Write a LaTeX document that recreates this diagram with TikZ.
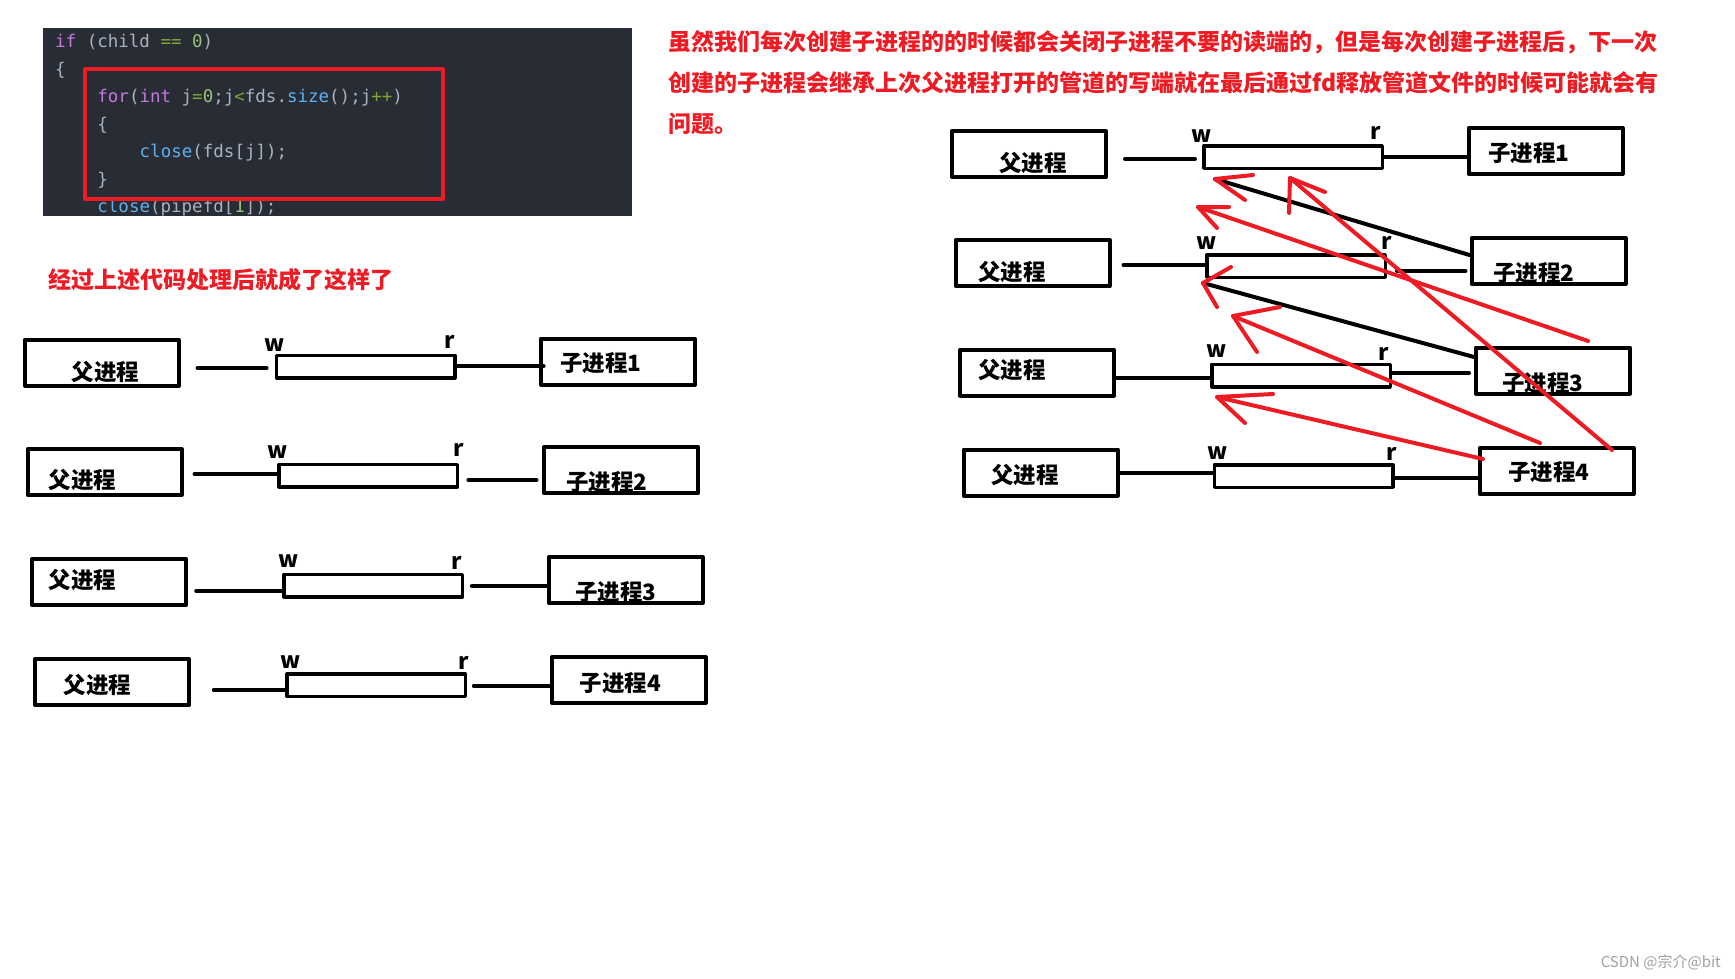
\documentclass[tikz,border=0pt]{standalone}
\usepackage{fontspec}
\newfontfamily\cjk{Noto Sans CJK SC}
\newfontfamily\codefont{DejaVu Sans Mono}
\begin{document}
\begin{tikzpicture}[x=1pt,y=-1pt,line join=round,
  procbox/.style={draw,line width=4pt,minimum width=154pt,minimum height=46pt,inner sep=0pt},
  pipebox/.style={draw,line width=3.5pt,minimum width=178.5pt,minimum height=22.5pt,inner sep=0pt},
  wire/.style={line width=4pt,line cap=round},
  pen/.style={draw=inkred,line width=4pt,line cap=round},
  lbl/.style={font=\cjk\bfseries\fontsize{22.5}{27}\selectfont,inner sep=0pt},
  endlbl/.style={lbl,anchor=base},
  codeln/.style={font=\codefont\fontsize{17.5}{27.5}\selectfont,anchor=base west,inner sep=0pt,text=codegray}]
\definecolor{inkred}{HTML}{ED1C24}
\definecolor{codebg}{HTML}{282C34}
\definecolor{codegray}{HTML}{ABB2BF}
\definecolor{kw}{HTML}{C678DD}
\definecolor{fn}{HTML}{61AFEF}
\definecolor{op}{HTML}{7FA835}
\definecolor{num}{HTML}{98C379}
\definecolor{wmgray}{HTML}{A0A0A0}
\fill[white] (0,0) rectangle (1735,978);
\useasboundingbox (0,0) rectangle (1735,978);
\fill[codebg] (43,28) rectangle (632,216);
\begin{scope}
\clip (43,28) rectangle (632,216);
\node[codeln] (cl1) at (55,47.5) {\textcolor{kw}{if} (child \textcolor{op}{==} \textcolor{num}{0})};
\node[codeln] (cl2) at (55,75) {\{};
\node[codeln] (cl3) at (97.2,102.5) {\textcolor{kw}{for}(\textcolor{kw}{int} j\textcolor{op}{=}\textcolor{num}{0};j\textcolor{op}{<}fds.\textcolor{fn}{size}();j\textcolor{op}{++})};
\node[codeln] (cl4) at (97.2,130) {\{};
\node[codeln] (cl5) at (139.5,157.5) {\textcolor{fn}{close}(fds[j]);};
\node[codeln] (cl6) at (97.2,185) {\}};
\node[codeln] (cl7) at (97.2,212.5) {\textcolor{fn}{close}(pipefd[\textcolor{num}{1}]);};
\end{scope}
\draw[draw=inkred,line width=4.5pt] (85,69) rectangle (443,199);
\node[font=\cjk\bfseries\fontsize{23}{41}\selectfont,text=inkred,align=left,anchor=west,inner sep=0pt] (note) at (668,83) {虽然我们每次创建子进程的的时候都会关闭子进程不要的读端的，但是每次创建子进程后，下一次\\创建的子进程会继承上次父进程打开的管道的写端就在最后通过fd释放管道文件的时候可能就会有\\问题。};
\node[font=\cjk\bfseries\fontsize{23}{28}\selectfont,text=inkred,anchor=west,inner sep=0pt] (title) at (48,280) {经过上述代码处理后就成了这样了};
\node[procbox] (parL1) at (101.8,362.5) {};
\node[lbl] (parL1t) at (105.7,371.7) {父进程};
\node[pipebox] (pipeL1) at (365.6,366.5) {};
\node[endlbl] (wL1) at (274.4,351) {w};
\node[endlbl] (rL1) at (449.4,348) {r};
\node[procbox] (kidL1) at (618.1,361.5) {};
\node[lbl] (kidL1t) at (600.6,363.3) {子进程1};
\draw[wire,shorten <=16.7pt,shorten >=8pt] (parL1.east |- 0,368) -- (pipeL1.west |- 0,368);
\draw[wire,shorten >=-4.5pt] (pipeL1.east |- 0,366) -- (kidL1.west |- 0,366);
\node[procbox] (parL2) at (104.5,472) {};
\node[lbl] (parL2t) at (82.7,480) {父进程};
\node[pipebox] (pipeL2) at (368.4,475.5) {};
\node[endlbl] (wL2) at (278,458) {w};
\node[endlbl] (rL2) at (458.6,456.5) {r};
\node[procbox] (kidL2) at (621.2,470) {};
\node[lbl] (kidL2t) at (606.6,481.7) {子进程2};
\draw[wire,shorten <=11pt] (parL2.east |- 0,474) -- (pipeL2.west |- 0,474);
\draw[wire,shorten <=9pt,shorten >=5.7pt] (pipeL2.east |- 0,480) -- (kidL2.west |- 0,480);
\node[procbox] (parL3) at (109.2,582) {};
\node[lbl] (parL3t) at (82.7,580) {父进程};
\node[pipebox] (pipeL3) at (373.4,585.5) {};
\node[endlbl] (wL3) at (288.6,567) {w};
\node[endlbl] (rL3) at (456.3,569) {r};
\node[procbox] (kidL3) at (625.7,580) {};
\node[lbl] (kidL3t) at (615.8,591.7) {子进程3};
\draw[wire,shorten <=8pt] (parL3.east |- 0,591) -- (pipeL3.west |- 0,591);
\draw[wire,shorten <=7.5pt] (pipeL3.east |- 0,586) -- (kidL3.west |- 0,586);
\node[procbox] (parL4) at (112.1,682) {};
\node[lbl] (parL4t) at (97.4,685) {父进程};
\node[pipebox] (pipeL4) at (376.2,685.3) {};
\node[endlbl] (wL4) at (290.9,668) {w};
\node[endlbl] (rL4) at (464.2,669) {r};
\node[procbox] (kidL4) at (628.5,680) {};
\node[lbl] (kidL4t) at (620.4,682.7) {子进程4};
\draw[wire,shorten <=22.7pt] (parL4.east |- 0,690) -- (pipeL4.west |- 0,690);
\draw[wire,shorten <=6.6pt] (pipeL4.east |- 0,686) -- (kidL4.west |- 0,686);
\node[procbox] (parR1) at (1029,154) {};
\node[lbl] (parR1t) at (1033,163) {父进程};
\node[pipebox] (pipeR1) at (1293,157) {};
\node[endlbl] (wR1) at (1202,142) {w};
\node[endlbl] (rR1) at (1376,139) {r};
\node[procbox] (kidR1) at (1545.5,151) {};
\node[lbl] (kidR1t) at (1529,153) {子进程1};
\draw[wire,shorten <=17pt,shorten >=7pt] (parR1.east |- 0,159) -- (pipeR1.west |- 0,159);
\draw[wire] (pipeR1.east |- 0,157) -- (kidR1.west |- 0,157);
\node[procbox] (parR2) at (1032.5,263) {};
\node[lbl] (parR2t) at (1012,272) {父进程};
\node[pipebox] (pipeR2) at (1296,266) {};
\node[endlbl] (wR2) at (1207,249) {w};
\node[endlbl] (rR2) at (1387,249) {r};
\node[procbox] (kidR2) at (1548.5,261) {};
\node[lbl] (kidR2t) at (1534,273) {子进程2};
\draw[wire,shorten <=12pt] (parR2.east |- 0,265) -- (pipeR2.west |- 0,265);
\draw[wire,shorten <=10pt,shorten >=4pt] (pipeR2.east |- 0,271) -- (kidR2.west |- 0,271);
\node[procbox] (parR3) at (1037,372.5) {};
\node[lbl] (parR3t) at (1012,370) {父进程};
\node[pipebox] (pipeR3) at (1301,375.5) {};
\node[endlbl] (wR3) at (1217,357) {w};
\node[endlbl] (rR3) at (1384,360) {r};
\node[procbox] (kidR3) at (1553,370.5) {};
\node[lbl] (kidR3t) at (1543,383) {子进程3};
\draw[wire] (parR3.east |- 0,378) -- (pipeR3.west |- 0,378);
\draw[wire,shorten >=5pt] (pipeR3.east |- 0,373) -- (kidR3.west |- 0,373);
\node[procbox] (parR4) at (1040.5,472.5) {};
\node[lbl] (parR4t) at (1025,475) {父进程};
\node[pipebox] (pipeR4) at (1303.5,476) {};
\node[endlbl] (wR4) at (1218,459) {w};
\node[endlbl] (rR4) at (1392,460) {r};
\node[procbox] (kidR4) at (1556.5,471) {};
\node[lbl] (kidR4t) at (1549,472) {子进程4};
\draw[wire] (parR4.east |- 0,473) -- (pipeR4.west |- 0,473);
\draw[wire] (pipeR4.east |- 0,478) -- (kidR4.west |- 0,478);
\coordinate (leak1) at (1215,179);
\coordinate (leak2) at (1203,283);
\draw[wire] ([yshift=6pt]kidR2.west) -- (leak1);
\draw[wire] ([yshift=13.5pt]kidR3.west) -- (leak2);
\draw[pen] (1253,175) -- (leak1) -- (1245,200);
\draw[pen] (1231,267) -- (leak2) -- (1217,307);
\coordinate (tipA) at (1290,178);
\coordinate (tipB) at (1198,207);
\coordinate (tipC) at (1233,316);
\coordinate (tipD) at (1217,397);
\draw[pen] (1612,450) -- (tipA);
\draw[pen] (1325,192) -- (tipA) -- (1289,213);
\draw[pen] (1588,341) -- (tipB);
\draw[pen] (1229,207) -- (tipB) -- (1217,228);
\draw[pen] (1540,443) -- (tipC);
\draw[pen] (1280,307) -- (tipC) -- (1257,352);
\draw[pen] (1483,459) -- (tipD);
\draw[pen] (1273,394) -- (tipD) -- (1245,423);
\node[font=\cjk\fontsize{15}{18}\selectfont,text=wmgray,anchor=east,inner sep=0pt] (mark) at (1721,962) {CSDN @宗介@bit};
\end{tikzpicture}
\end{document}
